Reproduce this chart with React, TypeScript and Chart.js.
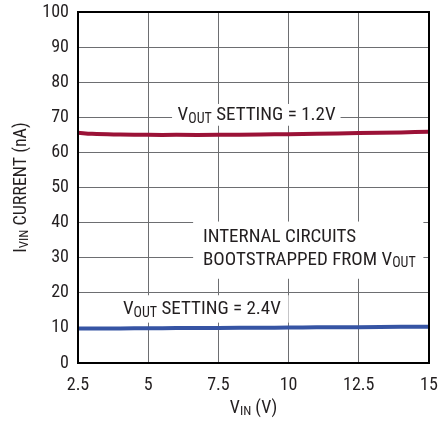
import React, { useEffect, useRef } from "react";
import { Chart, registerables } from "chart.js";

Chart.register(...registerables);

const vin = [2.5, 3, 4, 5, 6, 7.5, 9, 10, 11, 12.5, 14, 15];
const current12 = [65.6, 65.3, 65.1, 65.0, 65.0, 65.0, 65.1, 65.2, 65.3, 65.5, 65.7, 65.9];
const current24 = [9.8, 9.8, 9.85, 9.9, 9.95, 10.0, 10.05, 10.1, 10.15, 10.2, 10.3, 10.35];
const xTicks = [2.5, 5, 7.5, 10, 12.5, 15];
const yTicks = [0, 10, 20, 30, 40, 50, 60, 70, 80, 90, 100];

const FONT = "'Roboto Condensed', 'DejaVu Sans Condensed', sans-serif";

type Seg = { t: string; sub?: boolean };
type Note = { x: number; y: number; align: "left" | "center"; lines: Seg[][]; box: [number, number, number, number] };

// annotation anchors in data units; box = [xMin, xMax, yMin, yMax] in data units
const notes: Note[] = [
  {
    x: 8.86, y: 70.5, align: "center",
    lines: [[{ t: "V" }, { t: "OUT", sub: true }, { t: " SETTING = 1.2V" }]],
    box: [5.85, 11.85, 67.6, 73.8],
  },
  {
    x: 6.95, y: 35.9, align: "left",
    lines: [
      [{ t: "INTERNAL CIRCUITS" }],
      [{ t: "BOOTSTRAPPED FROM V" }, { t: "OUT", sub: true }],
    ],
    box: [6.6, 14.8, 24.0, 40.3],
  },
  {
    x: 4.1, y: 15.3, align: "left",
    lines: [[{ t: "V" }, { t: "OUT", sub: true }, { t: " SETTING = 2.4V" }]],
    box: [3.8, 10.0, 11.5, 19.3],
  },
];

function segWidth(ctx: CanvasRenderingContext2D, segs: Seg[], main: number, sub: number) {
  let w = 0;
  for (const s of segs) {
    ctx.font = `${s.sub ? sub : main}px ${FONT}`;
    w += ctx.measureText(s.t).width;
  }
  return w;
}

function drawSegs(ctx: CanvasRenderingContext2D, segs: Seg[], x: number, y: number, main: number, sub: number) {
  let cx = x;
  ctx.textAlign = "left";
  ctx.textBaseline = "middle";
  for (const s of segs) {
    ctx.font = `${s.sub ? sub : main}px ${FONT}`;
    ctx.fillText(s.t, cx, s.sub ? y + 4 : y);
    cx += ctx.measureText(s.t).width;
  }
}

const notesPlugin = {
  id: "notes",
  beforeDatasetsDraw(chart: any) {
    const { ctx, scales } = chart;
    const xs = scales.x;
    const ys = scales.y;
    ctx.save();
    for (const n of notes) {
      const bx0 = xs.getPixelForValue(n.box[0]);
      const bx1 = xs.getPixelForValue(n.box[1]);
      const by0 = ys.getPixelForValue(n.box[3]);
      const by1 = ys.getPixelForValue(n.box[2]);
      ctx.fillStyle = "#ffffff";
      ctx.fillRect(bx0, by0, bx1 - bx0, by1 - by0);
    }
    ctx.fillStyle = "#231f20";
    for (const n of notes) {
      const px = xs.getPixelForValue(n.x);
      const py = ys.getPixelForValue(n.y);
      n.lines.forEach((line, i) => {
        const w = segWidth(ctx, line, 19, 14);
        const sx = n.align === "center" ? px - w / 2 : px;
        drawSegs(ctx, line, sx, py + i * 23, 19, 14);
      });
    }
    ctx.restore();
  },
  afterDraw(chart: any) {
    const { ctx, chartArea } = chart;
    ctx.save();
    ctx.fillStyle = "#231f20";
    // x title
    const xt: Seg[] = [{ t: "V" }, { t: "IN", sub: true }, { t: " (V)" }];
    const wx = segWidth(ctx, xt, 18, 13);
    drawSegs(ctx, xt, (chartArea.left + chartArea.right) / 2 - wx / 2, 408, 18, 13);
    // y title
    const yt: Seg[] = [{ t: "I" }, { t: "VIN", sub: true }, { t: " CURRENT (nA)" }];
    const wy = segWidth(ctx, yt, 18, 13);
    ctx.translate(21, (chartArea.top + chartArea.bottom) / 2);
    ctx.rotate(-Math.PI / 2);
    drawSegs(ctx, yt, -wy / 2, 0, 18, 13);
    ctx.restore();
  },
};

export default function App() {
  const ref = useRef<HTMLCanvasElement>(null);
  useEffect(() => {
    if (!ref.current) return;
    const chart = new Chart(ref.current, {
      type: "line",
      data: {
        datasets: [
          {
            label: "VOUT = 1.2V",
            data: vin.map((v, i) => ({ x: v, y: current12[i] })),
            borderColor: "#9b1237",
            borderWidth: 4,
            pointRadius: 0,
            tension: 0.4,
          },
          {
            label: "VOUT = 2.4V",
            data: vin.map((v, i) => ({ x: v, y: current24[i] })),
            borderColor: "#3654a4",
            borderWidth: 4,
            pointRadius: 0,
            tension: 0.4,
          },
        ],
      },
      options: {
        responsive: false,
        animation: false,
        layout: { padding: { left: 0, right: 9, top: 12, bottom: 0 } },
        plugins: { legend: { display: false }, tooltip: { enabled: false } },
        scales: {
          x: {
            type: "linear",
            min: 2.5,
            max: 15,
            afterBuildTicks: (s: any) => { s.ticks = xTicks.map((v) => ({ value: v })); },
            afterFit: (s: any) => { s.height = 60; s.paddingLeft = 0; s.paddingRight = 0; },
            grid: { color: "#6d6e71", lineWidth: 1, drawTicks: false },
            border: { color: "#000", width: 2 },
            ticks: {
              padding: 12,
              color: "#231f20",
              font: { family: FONT, size: 18 },
              maxRotation: 0,
              callback: (v: any) => String(v),
            },
          },
          y: {
            type: "linear",
            min: 0,
            max: 100,
            afterBuildTicks: (s: any) => { s.ticks = yTicks.map((v) => ({ value: v })); },
            afterFit: (s: any) => { s.width = 78; s.paddingTop = 0; s.paddingBottom = 0; },
            grid: { color: "#6d6e71", lineWidth: 1, drawTicks: false },
            border: { color: "#000", width: 2 },
            ticks: {
              padding: 9,
              color: "#231f20",
              font: { family: FONT, size: 18 },
              callback: (v: any) => String(v),
            },
          },
        },
      },
      plugins: [
        notesPlugin,
        {
          id: "frame",
          afterDatasetsDraw(chart: any) {
            const { ctx, chartArea } = chart;
            ctx.save();
            ctx.strokeStyle = "#000";
            ctx.lineWidth = 2;
            ctx.strokeRect(chartArea.left, chartArea.top, chartArea.right - chartArea.left, chartArea.bottom - chartArea.top);
            ctx.restore();
          },
        },
      ],
    } as any);
    return () => chart.destroy();
  }, []);
  return (
    <div style={{ position: "absolute", left: 0, top: 0, width: 438, height: 423, background: "#fff" }}>
      <canvas ref={ref} width={438} height={423} style={{ display: "block" }} />
    </div>
  );
}
